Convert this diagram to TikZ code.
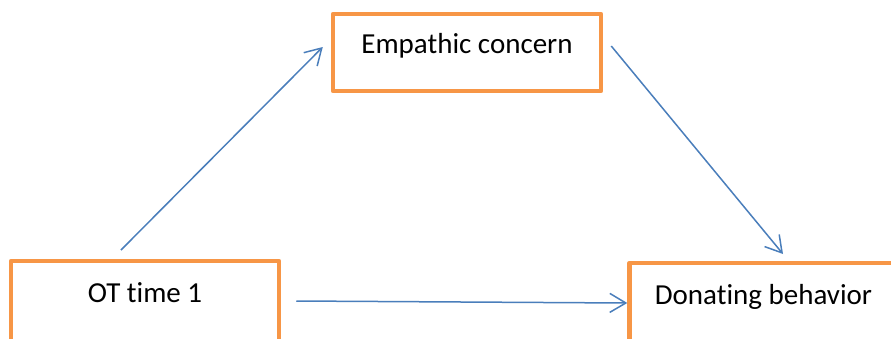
\documentclass[tikz,border=0pt]{standalone}
\usepackage{fontspec}
\setmainfont{Carlito}[Ligatures=NoCommon]
\usetikzlibrary{arrows.meta}
\definecolor{boxorange}{HTML}{F79646}
\definecolor{arrowblue}{HTML}{4A7EBB}
\begin{document}
\begin{tikzpicture}[x=1pt,y=-1pt,
  box/.style={draw=boxorange, line width=4.5pt, line join=round, fill=white,
    minimum width=268pt, minimum height=77pt, inner sep=0pt,
    text height=20pt, text depth=17pt, font=\fontsize{29}{34}\selectfont},
  lowbox/.style={box, minimum height=90pt, text depth=28pt},
  arr/.style={draw=arrowblue, line width=1.5pt,
    -{Straight Barb[length=16pt,width=19pt]}}]
\useasboundingbox (0,0) rectangle (891,338);
\clip (0,0) rectangle (891,338);
\node[box, text depth=19pt] (ec) at (467,52.5) {Empathic concern};
\node[lowbox] (ot) at (145,306) {OT time 1};
\node[lowbox] (db) at (763.5,308) {Donating behavior};
\draw[arr] ([xshift=-24pt,yshift=8.75pt]ot.north) -- ([xshift=-8pt,yshift=5.5pt]ec.west);
\draw[arr] ([xshift=8pt,yshift=6.5pt]ec.east) -- ([xshift=19.5pt,yshift=6.75pt]db.north);
\draw[arr] ([xshift=15pt,yshift=5pt]ot.east) -- ([yshift=5pt]db.west);
\end{tikzpicture}
\end{document}
